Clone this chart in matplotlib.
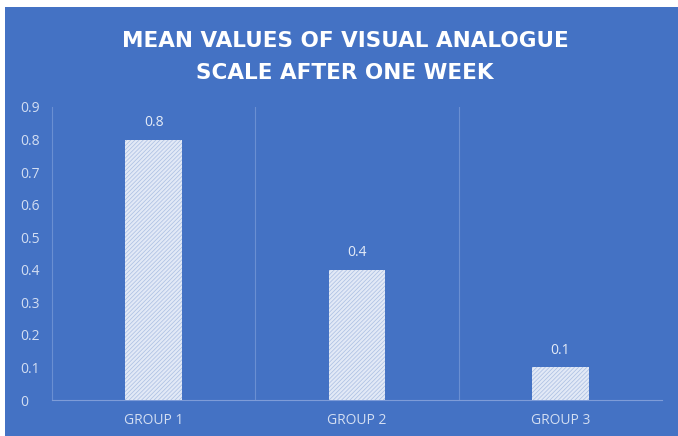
import matplotlib.pyplot as plt
from matplotlib.patches import Rectangle

groups = ["GROUP 1", "GROUP 2", "GROUP 3"]
means = [0.8, 0.4, 0.1]
yticks = [0, 0.1, 0.2, 0.3, 0.4, 0.5, 0.6, 0.7, 0.8, 0.9]
title = "MEAN VALUES OF VISUAL ANALOGUE\nSCALE AFTER ONE WEEK"

blue = "#4472C4"
light = "#D3DEF2"
grid = "#6A8FD2"

plt.rcParams['font.family'] = ['Open Sans', 'DejaVu Sans']
plt.rcParams['hatch.linewidth'] = 0.5

fig = plt.figure(figsize=(6.78, 4.36), dpi=100)
fig.patch.set_facecolor("white")
# blue chart area, offset a few pixels like the screenshot
fig.patches.append(Rectangle((5 / 678, 0), 1 - 5 / 678, 1 - 7 / 436,
                             transform=fig.transFigure, facecolor=blue,
                             edgecolor="none", zorder=-5))

ax = fig.add_axes([52 / 678, 1 - 400 / 436, 610 / 678, 293 / 436])
ax.set_facecolor("none")
ax.set_zorder(2)

x = list(range(len(groups)))
bars = ax.bar(x, means, width=0.28, color="#E2E9F6", edgecolor="#AABEE2",
              hatch="////////", linewidth=0, zorder=3)

for xi, v in zip(x, means):
    ax.text(xi, v + 0.03, str(v), ha="center", va="bottom",
            color="#E4EBF7", fontsize=10)

ax.set_xlim(-0.5, 2.5)
ax.set_ylim(0, 0.9)
ax.set_yticks(yticks)
ax.set_yticklabels([("%g" % t) for t in yticks])
ax.set_xticks(x)
ax.set_xticklabels(groups)

# category separators
for b in [0.5, 1.5]:
    ax.axvline(b, color=grid, linewidth=0.8, zorder=1)

for s in ["top", "right"]:
    ax.spines[s].set_visible(False)
ax.spines["left"].set_color(grid)
ax.spines["bottom"].set_color("#7E9CD8")
ax.tick_params(axis="both", length=0, colors=light, labelsize=10)
ax.tick_params(axis="y", pad=23)
ax.tick_params(axis="x", pad=9)
for lab in ax.get_yticklabels():
    lab.set_horizontalalignment("left")

fig.text(345 / 678, 1 - 57 / 436, title, ha="center", va="center",
         color="white", fontsize=15.5, fontweight="bold", linespacing=1.7,
         family=["DejaVu Sans"], zorder=3)

fig.savefig("out.png", dpi=100)
